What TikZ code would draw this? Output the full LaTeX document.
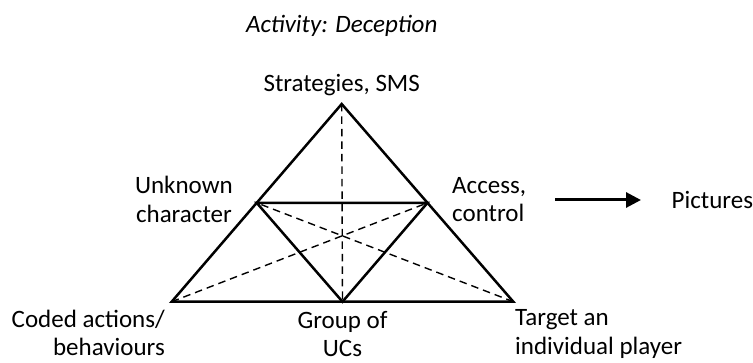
\documentclass[tikz,border=0pt]{standalone}
\usepackage{fontspec}
\setmainfont{Carlito}
\usetikzlibrary{arrows.meta, positioning, calc}
\tikzstyle{lbl} = [inner sep=0pt, font=\fontsize{25}{28.3}\selectfont]
\tikzstyle{side} = [line width=2.5pt, line join=miter]
\tikzstyle{median} = [line width=1.4pt, dash pattern=on 7.5pt off 5pt]
\tikzstyle{pointer} = [line width=3pt, -{Triangle[length=15pt,width=15pt]}]

\begin{document}
\begin{tikzpicture}[x=1pt, y=-1pt]
		\useasboundingbox (0,0) rectangle (753,363);
		% corners of the triangle
		\coordinate (top) at (341.7,104);
		\coordinate (bl) at (171.7,301.7);
		\coordinate (br) at (513.3,301.7);
		\coordinate (lm) at ($(top)!0.5!(bl)$);
		\coordinate (rm) at ($(top)!0.5!(br)$);
		\coordinate (bm) at ($(bl)!0.5!(br)$);
		% medians
		\draw[median] (top) -- (bm);
		\draw[median] (bl) -- (rm);
		\draw[median] (br) -- (lm);
		% sides
		\draw[side] (top) -- (bl) -- (br) -- cycle;
		\draw[side] (lm) -- (rm) -- (bm) -- cycle;
		% labels
		\node[lbl, font=\fontsize{25}{28.3}\selectfont\itshape, anchor=base] (title) at (341.7,33) {Activity: Deception};
		\node[lbl, above=8pt of top] (strat) {Strategies, SMS};
		\node[lbl, align=center, left=23.7pt of lm, yshift=3.5pt] (unknown) {Unknown\\character};
		\node[lbl, align=left, right=24.5pt of rm, yshift=3.5pt] (access) {Access,\\control};
		\node[lbl, align=right, below left=8pt and 6.7pt of bl] (coded) {Coded actions/\\behaviours};
		\node[lbl, align=center, below=9pt of bm] (group) {Group of\\UCs};
		\node[lbl, align=left, below right=8pt and 1.7pt of br] (target) {Target an\\individual player};
		\node[lbl, anchor=west] (pics) at (671.5,200) {Pictures};
		\coordinate (arrfrom) at (555,200);
		\draw[pointer, shorten >=30.5pt] (arrfrom) -- (pics.west);
	\end{tikzpicture}
\end{document}
